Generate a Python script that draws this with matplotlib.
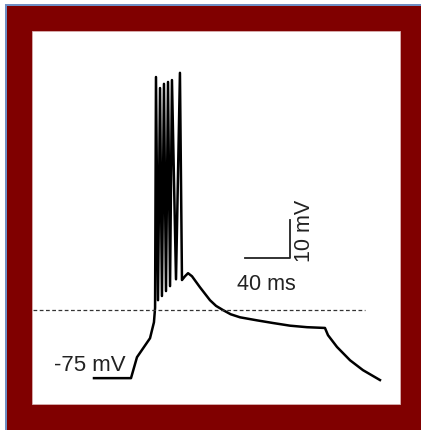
import numpy as np
import matplotlib

matplotlib.use('Agg')
import matplotlib.pyplot as plt
from matplotlib.patches import Rectangle

plt.rcParams['font.family'] = ['Liberation Sans', 'DejaVu Sans']

# membrane potential trace: time (ms), voltage (mV)
t = [0, 32.9, 38.2, 44.0, 49.8, 53.3, 54.3,
     55.1, 56.9, 58.7, 60.4, 62.2, 64.0, 65.8, 67.6, 69.3, 72.9, 76.4, 78.2,
     80.9, 83.6, 87.1, 94.2, 103.1, 108.5, 114.7, 121.5, 129.8, 144.9, 159.1,
     174.2, 189.3, 205.3, 208.0, 216.0, 227.6, 239.1, 254.2]
v = [-75, -75, -69.5, -67.0, -64.5, -60.3, -56.5,
     4.2, -54.5, 1.3, -53.4, 2.4, -52.1, 2.9, -50.8, 3.4, -49.0, 5.3, -49.2,
     -48.2, -47.4, -48.2, -51.1, -54.5, -56.0, -57.1, -58.2, -59.0, -59.8, -60.5,
     -61.2, -61.6, -61.8, -63.7, -66.8, -70.3, -72.9, -75.5]

threshold = -57
rest_label = "-75 mV"
bar_ms = 40
bar_mv = 10

maroon = '#800000'
blue = '#6f8fc4'
fig = plt.figure(figsize=(4.21, 4.30), dpi=100, facecolor=maroon)

# white margin and thin blue frame line at the top/left edge
fig.add_artist(Rectangle((0, 0), 5 / 421, 1, transform=fig.transFigure,
                         facecolor='white', edgecolor='none'))
fig.add_artist(Rectangle((0, 1 - 4 / 430), 1, 4 / 430, transform=fig.transFigure,
                         facecolor='white', edgecolor='none'))
fig.add_artist(Rectangle((5 / 421, 0), 1.6 / 421, 1 - 4 / 430, transform=fig.transFigure,
                         facecolor=blue, edgecolor='none'))
fig.add_artist(Rectangle((5 / 421, 1 - 5.6 / 430), 1 - 5 / 421, 1.6 / 430,
                         transform=fig.transFigure, facecolor=blue, edgecolor='none'))

# white panel inside the maroon frame
box = [32 / 421, 26 / 430, 368 / 421, 373 / 430]
fig.add_artist(Rectangle((box[0], box[1]), box[2], box[3], transform=fig.transFigure,
                         facecolor='white', edgecolor='#d9b0b0', lw=0.6, zorder=0))

ax = fig.add_axes(box)
ax.set_xlim(-55.1, 272)
ax.set_ylim(-81.8, 16.3)
ax.axis('off')

ax.plot(t, v, color='black', lw=1.8, solid_joinstyle='round')
ax.plot([-54, 241], [threshold, threshold], color='#333333', lw=0.9,
        linestyle=(0, (3, 2)))

# scale bar
x0, y0 = 134, -43.4
ax.plot([x0, x0 + bar_ms, x0 + bar_ms], [y0, y0, y0 + bar_mv],
        color='#222222', lw=1.3)
ax.text(x0 + bar_ms / 2 - 0.5, -51.8, f"{bar_ms} ms", ha='center', va='baseline',
        fontsize=15.5, color='#222222')
ax.text(187.2, -36.3, f"{bar_mv} mV", rotation=90, ha='center', va='center',
        fontsize=15.5, color='#222222')
ax.text(28.4, -73.2, rest_label, ha='right', va='baseline', fontsize=16,
        color='#222222')

fig.savefig('out.png', dpi=100, facecolor=maroon)
